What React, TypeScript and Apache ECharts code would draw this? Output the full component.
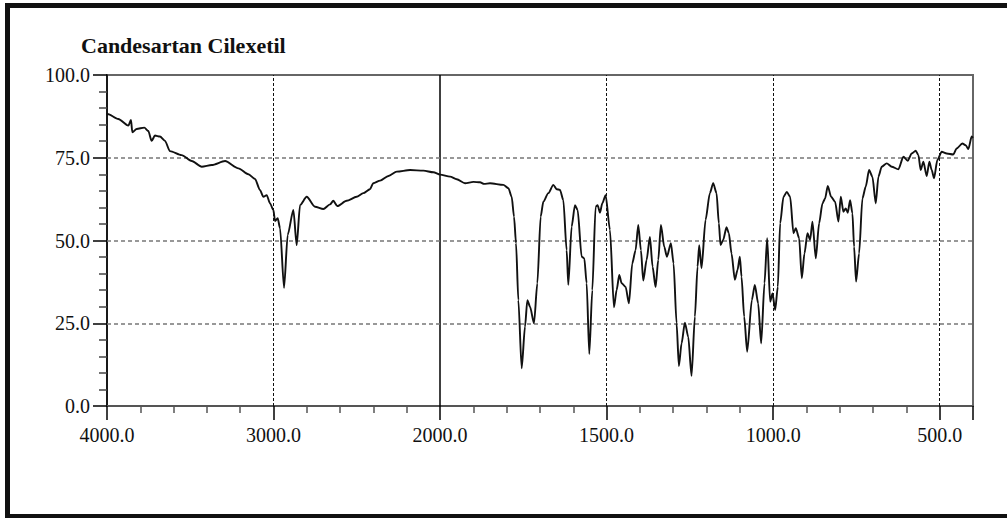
import React, { useEffect, useRef } from "react";
import * as echarts from "echarts";

const titleText = "Candesartan Cilexetil";
const xTickWavenumbers = [4000, 3000, 2000, 1500, 1000, 500];
const verticalDashed = [3000, 1500, 1000, 500];
const verticalSolid = [2000];
const horizontalGrid = [25, 50, 75];

const wavenumbers = [
  4000, 3996, 3932, 3872, 3856, 3848, 3822, 3776, 3752, 3732, 3712, 3682, 3652, 3622, 3552, 3491, 3431, 3371, 3291, 3211,
  3151, 3111, 3082, 3061, 3041, 3021, 3001, 2991, 2975, 2961, 2937, 2915, 2881, 2861, 2841, 2801, 2751, 2701, 2661, 2641,
  2617, 2561, 2501, 2461, 2421, 2401, 2360, 2310, 2260, 2180, 2100, 2040, 2000, 1970, 1950, 1925, 1900, 1880, 1868, 1850,
  1810, 1795, 1785, 1778, 1772, 1765, 1755, 1745, 1738, 1730, 1718, 1708, 1698, 1690, 1675, 1660, 1650, 1640, 1630, 1620,
  1615, 1605, 1595, 1587, 1575, 1567, 1560, 1552, 1543, 1533, 1527, 1520, 1513, 1503, 1490, 1478, 1470, 1462, 1455, 1443,
  1433, 1423, 1413, 1405, 1397, 1390, 1380, 1370, 1362, 1353, 1345, 1337, 1327, 1319, 1307, 1299, 1290, 1283, 1275, 1265,
  1255, 1245, 1235, 1227, 1222, 1215, 1203, 1190, 1180, 1170, 1163, 1158, 1150, 1140, 1133, 1125, 1115, 1107, 1100, 1095,
  1087, 1078, 1064, 1055, 1045, 1036, 1026, 1018, 1009, 1002, 994, 986, 979, 969, 959, 949, 939, 932, 922, 914,
  906, 897, 889, 882, 872, 862, 852, 844, 836, 826, 814, 804, 797, 789, 782, 776, 769, 762, 757, 751,
  742, 732, 722, 712, 702, 692, 684, 674, 659, 644, 624, 609, 596, 584, 572, 564, 557, 549, 539, 531,
  524, 517, 507, 494, 479, 459, 449, 432, 422, 414, 404, 400,
];

const transmittance = [
  88.5, 88.2, 86.7, 84.7, 86.4, 82.7, 83.7, 84.1, 83.1, 80.1, 81.7, 81.4, 80.1, 77.0, 75.8, 74.0, 72.3, 72.8, 74.0, 71.8,
  70.0, 68.6, 65.3, 63.2, 63.7, 61.2, 59.2, 55.9, 56.7, 53.7, 35.7, 51.7, 59.2, 48.6, 60.7, 63.2, 60.2, 59.5, 60.9, 62.0,
  60.4, 62.0, 63.2, 64.3, 65.5, 67.3, 68.1, 69.5, 70.8, 71.3, 71.1, 70.6, 69.9, 69.3, 68.5, 67.3, 67.7, 67.6, 67.1, 67.3,
  66.8, 65.8, 63.2, 57.2, 49.2, 32.0, 11.4, 24.0, 32.0, 30.0, 25.0, 37.1, 57.2, 61.7, 64.3, 66.8, 65.5, 65.3, 62.2, 47.1,
  36.6, 54.2, 60.7, 59.2, 45.1, 44.6, 37.1, 15.7, 35.0, 60.2, 60.7, 58.4, 61.2, 63.7, 53.2, 29.8, 35.0, 39.6, 37.1, 36.0,
  31.0, 43.1, 47.1, 54.7, 47.1, 37.9, 44.1, 51.1, 42.1, 35.9, 44.1, 54.7, 48.1, 45.1, 49.2, 43.1, 25.0, 12.1, 18.9, 25.2,
  20.9, 9.1, 27.0, 42.1, 48.6, 41.6, 56.2, 64.3, 67.3, 64.3, 55.2, 48.6, 50.2, 54.0, 52.2, 46.1, 38.1, 41.1, 45.1, 39.1,
  27.0, 16.4, 32.0, 36.6, 31.0, 18.9, 37.1, 50.7, 31.5, 34.0, 29.0, 36.0, 55.2, 63.2, 64.7, 63.2, 52.2, 53.7, 50.7, 38.6,
  46.1, 52.2, 50.2, 55.7, 44.6, 55.2, 61.2, 62.7, 66.5, 63.2, 61.7, 55.7, 63.2, 58.7, 59.7, 58.4, 62.2, 58.2, 48.1, 37.6,
  46.1, 62.7, 66.3, 71.3, 69.3, 61.2, 69.3, 72.3, 73.3, 72.3, 71.5, 75.3, 74.1, 76.3, 77.1, 75.8, 71.3, 73.8, 69.5, 73.8,
  71.3, 68.8, 74.3, 76.8, 76.3, 76.0, 77.8, 79.3, 78.8, 77.6, 81.4, 81.0,
];

// Piecewise-linear wavenumber axis: 4000-2000 compressed 2x relative to 2000-400
const toU = (wn: number) => (wn >= 2000 ? (4000 - wn) / 2 : 1000 + (2000 - wn));
const fromU = (u: number) => (u <= 1000 ? 4000 - 2 * u : 2000 - (u - 1000));

export default function App() {
  const ref = useRef<HTMLDivElement>(null);
  useEffect(() => {
    if (!ref.current) return;
    const chart = echarts.init(ref.current, undefined, { renderer: "svg" });
    const data = wavenumbers.map((wn, i) => [toU(wn), transmittance[i]]);
    const serif = "Liberation Serif";
    const markData: any[] = [
      ...verticalDashed.map((wn) => ({
        xAxis: toU(wn),
        lineStyle: { color: "#111", width: 1, type: [3, 2] },
      })),
      ...verticalSolid.map((wn) => ({
        xAxis: toU(wn),
        lineStyle: { color: "#000", width: 1.5, type: "solid" },
      })),
      ...horizontalGrid.map((v) => ({
        yAxis: v,
        lineStyle: { color: "#777", width: 1.5, type: [4, 3] },
      })),
    ];
    chart.setOption({
      animation: false,
      backgroundColor: "#fff",
      title: {
        text: titleText,
        left: 81,
        top: 34,
        padding: 0,
        textStyle: { fontFamily: serif, fontWeight: "bold", fontSize: 22, color: "#111" },
      },
      graphic: [
        { type: "rect", shape: { x: 5, y: 3, width: 5, height: 515 }, style: { fill: "#111" } },
        { type: "rect", shape: { x: 5, y: 3, width: 1002, height: 5 }, style: { fill: "#111" } },
        { type: "rect", shape: { x: 5, y: 514, width: 1002, height: 4 }, style: { fill: "#111" } },
      ],
      grid: {
        left: 107,
        right: 34,
        top: 75,
        bottom: 112,
        show: true,
        borderColor: "#666",
        borderWidth: 2,
        backgroundColor: "transparent",
      },
      xAxis: {
        type: "value",
        min: 0,
        max: 2600,
        interval: 500,
        axisLine: { show: true, lineStyle: { color: "#555", width: 2 } },
        axisTick: { show: true, length: 14, lineStyle: { color: "#000", width: 1.5 } },
        minorTick: { show: true, splitNumber: 5, length: 7, lineStyle: { color: "#555", width: 1.5 } },
        splitLine: { show: false },
        axisLabel: {
          showMaxLabel: false,
          margin: 19,
          fontFamily: serif,
          fontSize: 20,
          color: "#111",
          formatter: (v: number) => {
            const wn = fromU(v);
            return xTickWavenumbers.includes(Math.round(wn)) ? wn.toFixed(1) : "";
          },
        },
      },
      yAxis: {
        type: "value",
        min: 0,
        max: 100,
        interval: 25,
        axisLine: { show: true, lineStyle: { color: "#000", width: 1.5 } },
        axisTick: { show: true, length: 14, lineStyle: { color: "#000", width: 1.5 } },
        minorTick: { show: true, splitNumber: 5, length: 8, lineStyle: { color: "#444", width: 1.5 } },
        splitLine: { show: false },
        axisLabel: {
          margin: 17,
          fontFamily: serif,
          fontSize: 20,
          color: "#111",
          formatter: (v: number) => v.toFixed(1),
        },
      },
      series: [
        {
          type: "line",
          data,
          showSymbol: false,
          symbol: "none",
          smooth: 0.25,
          smoothMonotone: "x",
          lineStyle: { color: "#111", width: 1.9 },
          z: 5,
          markLine: {
            silent: true,
            symbol: ["none", "none"],
            label: { show: false },
            z: 1,
            data: markData,
          },
        },
      ],
    });
    return () => chart.dispose();
  }, []);
  return (
    <div
      ref={ref}
      style={{ position: "fixed", left: 0, top: 0, width: 1007, height: 518, background: "#fff" }}
    />
  );
}
